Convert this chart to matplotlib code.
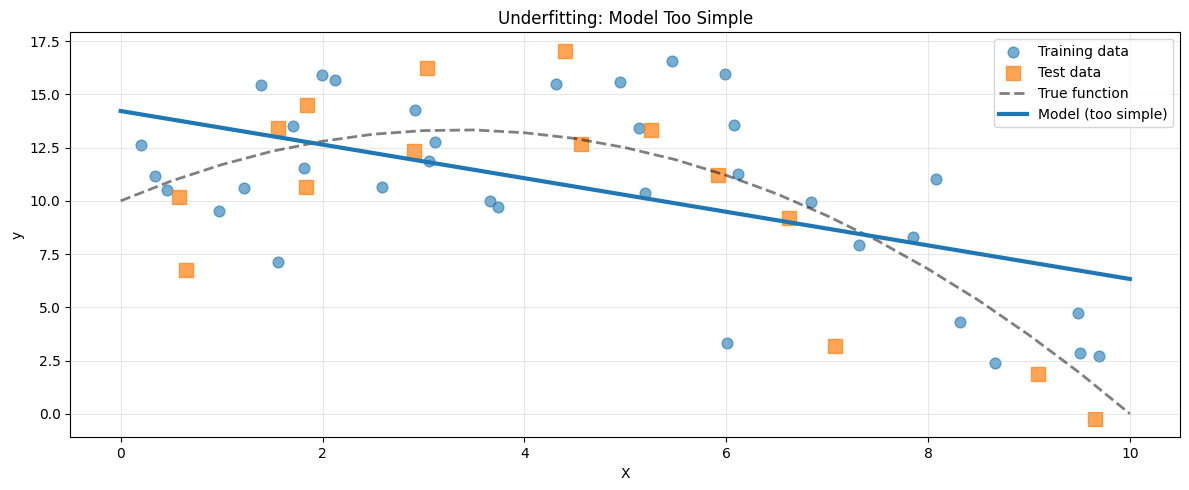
import matplotlib
matplotlib.use("Agg")
import matplotlib.pyplot as plt

# Training data
train_x = [0.200, 0.342, 0.461, 0.976, 1.221, 1.389, 1.561, 1.710, 1.819, 1.997,
           2.126, 2.589, 2.918, 3.050, 3.117, 3.659, 3.738, 4.316, 4.950, 5.139,
           5.198, 5.466, 5.991, 6.011, 6.080, 6.120, 6.843, 7.319, 7.854, 8.079,
           8.320, 8.667, 9.487, 9.509, 9.698]
train_y = [12.64, 11.18, 10.52, 9.53, 10.61, 15.42, 7.13, 13.52, 11.52, 15.89,
           15.69, 10.63, 14.29, 11.89, 12.77, 9.99, 9.72, 15.51, 15.56, 13.44,
           10.37, 16.58, 15.94, 3.34, 13.57, 11.27, 9.94, 7.93, 8.30, 11.02,
           4.29, 2.40, 4.72, 2.87, 2.73]

# Test data
test_x = [0.580, 0.649, 1.561, 1.845, 1.838, 2.906, 3.038, 4.405, 4.564, 5.252,
          5.922, 6.625, 7.081, 9.093, 9.658]
test_y = [10.19, 6.74, 13.42, 14.51, 10.65, 12.34, 16.26, 17.05, 12.65, 13.33,
          11.20, 9.20, 3.16, 1.88, -0.24]

# True function (sampled from chart)
true_x = [0.0, 0.5, 1.0, 1.5, 2.0, 2.5, 3.0, 3.5, 4.0, 4.5, 5.0,
          5.5, 6.0, 6.5, 7.0, 7.5, 8.0, 8.5, 9.0, 9.5, 10.0]
true_y = [10.0, 10.93, 11.7, 12.33, 12.8, 13.13, 13.3, 13.33, 13.2, 12.93, 12.5,
          11.93, 11.2, 10.33, 9.3, 8.13, 6.8, 5.33, 3.7, 1.93, 0.0]

# Model (too simple) line
model_x = [0.0, 10.0]
model_y = [14.22, 6.33]

fig = plt.figure(figsize=(11.89, 4.9), dpi=100)
ax = fig.add_subplot(111)
fig.subplots_adjust(left=0.0591, right=0.9927, top=0.934, bottom=0.1076)

ax.scatter(train_x, train_y, s=60, alpha=0.6, color="C0", label="Training data")
ax.scatter(test_x, test_y, s=100, alpha=0.7, color="C1", marker="s", label="Test data")
ax.plot(true_x, true_y, "k--", alpha=0.5, linewidth=2, label="True function")
ax.plot(model_x, model_y, color="C0", linewidth=3, label="Model (too simple)")

ax.set_xlabel("X")
ax.set_ylabel("y")
ax.set_title("Underfitting: Model Too Simple")
ax.legend(loc="upper right")
ax.grid(True, alpha=0.3)

fig.savefig("out.png", dpi=100)
